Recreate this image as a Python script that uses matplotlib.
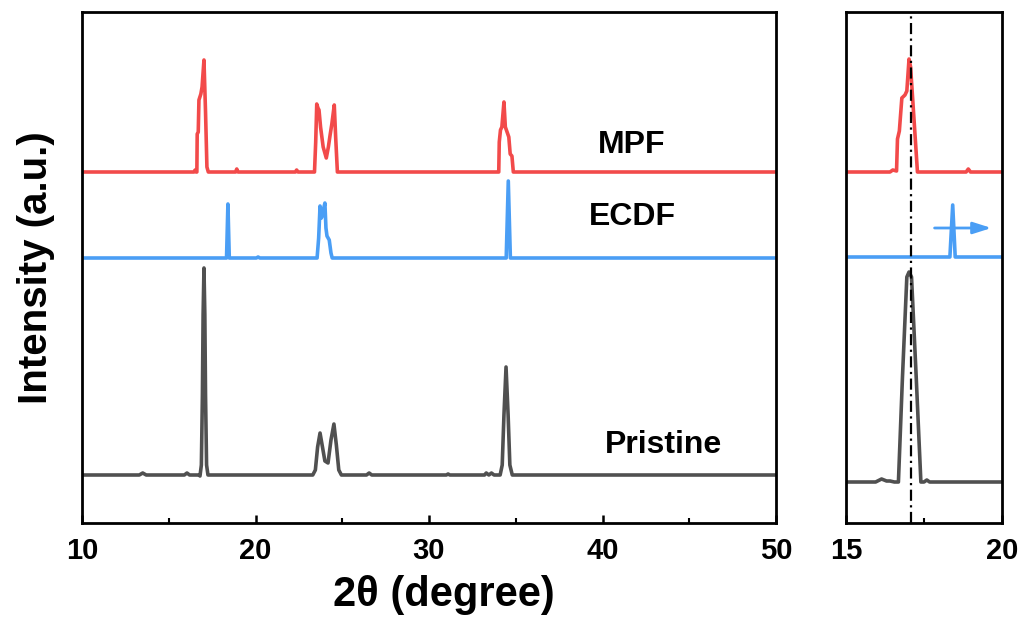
"""XRD patterns: Pristine / ECDF / MPF, full range + zoom on the 17 deg peak."""

import matplotlib
matplotlib.use("Agg")
import matplotlib.pyplot as plt
from matplotlib import font_manager

# ---- data (2theta in degree, intensity in a.u. above each baseline) ----
PRISTINE_X = [10, 13.3, 13.5, 13.7, 15.9, 16.05, 16.2, 16.75, 16.8, 16.88, 16.94, 16.98, 17.03,
              17.08, 17.12, 17.18, 17.26, 23.3, 23.45, 23.58, 23.72, 23.86, 24.0, 24.18, 24.35,
              24.52, 24.66, 24.8, 24.95, 26.4, 26.55, 26.7, 31.0, 31.1, 31.2, 33.2, 33.3, 33.45,
              33.6, 33.75, 34.1, 34.22, 34.32, 34.44, 34.56, 34.66, 34.8, 50]
PRISTINE_Y = [0, 0, 2, 0, 0, 2, 0, 0, -1, 10, 80, 160, 207,
              160, 80, 10, 0, 0, 5, 28, 42, 28, 14, 12, 35,
              51, 30, 5, 0, 0, 2, 0, 0, 1, 0, 0, 2, 0,
              2, 0, 0, 10, 60, 108, 60, 10, 0, 0]

ECDF_X = [10, 18.33, 18.41, 18.49, 20.05, 20.15, 20.25, 23.55, 23.64, 23.72, 23.8, 23.87, 24.0,
          24.06, 24.12, 24.25, 24.35, 24.42, 34.45, 34.57, 34.69, 50]
ECDF_Y = [0, 0, 54, 0, 0, 1, 0, 0, 20, 52, 40, 45, 55,
          30, 22, 18, 5, 0, 0, 77, 0, 0]

MPF_X = [10, 16.45, 16.52, 16.58, 16.62, 16.64, 16.7, 16.74, 16.85, 16.92, 17.03, 17.12, 17.2,
         17.28, 18.85, 18.92, 18.99, 22.3, 22.37, 22.45, 23.4, 23.47, 23.53, 23.6, 23.66, 23.75,
         23.9, 24.08, 24.2, 24.3, 24.4, 24.54, 24.62, 24.72, 33.95, 34.02, 34.05, 34.12, 34.2,
         34.32, 34.4, 34.5, 34.6, 34.68, 34.78, 34.86, 50]
MPF_Y = [0, 0, 2, 0, 0, 38, 40, 72, 78, 85, 112, 60, 5,
         0, 0, 3, 0, 0, 2, 0, 0, 30, 68, 64, 62, 45,
         25, 14, 25, 37, 48, 67, 35, 0, 0, 0, 30, 42, 45,
         70, 45, 40, 35, 18, 16, 0, 0]

# zoomed scan, 15-20 deg
Z_PRISTINE_X = [15, 15.95, 16.14, 16.3, 16.41, 16.55, 16.68, 16.81, 16.95, 17.02, 17.1, 17.25,
                17.4, 17.5, 17.59, 17.68, 20]
Z_PRISTINE_Y = [0, 0, 3, 1, 1, 0, 0, 105, 205, 210, 205, 105,
                0, 0, 2, 0, 0]
Z_ECDF_X = [15, 18.33, 18.42, 18.5, 20]
Z_ECDF_Y = [0, 0, 52, 0, 0]
Z_MPF_X = [15, 16.41, 16.5, 16.62, 16.65, 16.71, 16.79, 16.89, 16.95, 17.02, 17.07, 17.29,
           18.85, 18.92, 18.99, 20]
Z_MPF_Y = [0, 0, 2, 1, 33, 41, 74, 77, 81, 113, 105, 0,
           0, 3, 0, 0]

LABELS = ["Pristine", "ECDF", "MPF"]
OFFSETS = [48, 265, 351]
Z_OFFSETS = [41, 266, 351]
COLORS = ["#505050", "#4A9EF5", "#F24A4A"]
PEAK_LINE = 17.08

installed = {f.name for f in font_manager.fontManager.ttflist}
NARROW = ["Liberation Sans Narrow", "Liberation Sans"] if "Liberation Sans Narrow" in installed \
    else ["Liberation Sans"]
plt.rcParams["font.family"] = ["Liberation Sans", "DejaVu Sans"]
plt.rcParams["font.weight"] = "bold"


def style(ax, xmin, xmax, major, minor):
    ax.set_xlim(xmin, xmax)
    ax.set_ylim(0, 511)
    ax.set_xticks(major)
    ax.set_xticks(minor, minor=True)
    ax.set_yticks([])
    ax.tick_params(axis="x", which="major", direction="in", length=6, width=1.8, pad=10,
                   labelsize=21)
    ax.tick_params(axis="x", which="minor", direction="in", length=3.5, width=1.5)
    for lab in ax.get_xticklabels():
        lab.set_family(NARROW)
        lab.set_fontweight("bold")
    for s in ax.spines.values():
        s.set_linewidth(2.0)


fig = plt.figure(figsize=(10.24, 6.21), dpi=100)
ax1 = fig.add_axes([82 / 1024, 98 / 621, 694 / 1024, 511 / 621])
ax2 = fig.add_axes([846 / 1024, 98 / 621, 156 / 1024, 511 / 621])

full = [(PRISTINE_X, PRISTINE_Y), (ECDF_X, ECDF_Y), (MPF_X, MPF_Y)]
zoom = [(Z_PRISTINE_X, Z_PRISTINE_Y), (Z_ECDF_X, Z_ECDF_Y), (Z_MPF_X, Z_MPF_Y)]

for (x, y), off, c in zip(full, OFFSETS, COLORS):
    ax1.plot(x, [v + off for v in y], color=c, lw=2.6, solid_joinstyle="round")
for (x, y), off, c in zip(zoom, Z_OFFSETS, COLORS):
    ax2.plot(x, [v + off for v in y], color=c, lw=2.6, solid_joinstyle="round")

ax1.text(41.7, 378, "MPF", ha="center", va="center", fontsize=23, fontweight="bold")
ax1.text(41.7, 306, "ECDF", ha="center", va="center", fontsize=23, fontweight="bold")
ax1.text(43.5, 78, "Pristine", ha="center", va="center", fontsize=23, fontweight="bold")

ax2.axvline(PEAK_LINE, color="black", lw=1.6, ls=(0, (5, 2, 1, 2)))
ax2.annotate("", xy=(19.75, Z_OFFSETS[1] + 29), xytext=(17.75, Z_OFFSETS[1] + 29),
             arrowprops=dict(arrowstyle="-|>,head_length=1.1,head_width=0.35",
                             color=COLORS[1], lw=2.0))

style(ax1, 10, 50, [10, 20, 30, 40, 50], [15, 25, 35, 45])
style(ax2, 15, 20, [15, 20], [17.5])

fig.text(444 / 1024, 1 - 595 / 621, "2\u03b8 (degree)", ha="center", va="center",
         fontsize=30, fontweight="bold", family=NARROW)
fig.text(36 / 1024, 1 - 268 / 621, "Intensity (a.u.)", ha="center", va="center",
         rotation=90, fontsize=29, fontweight="bold")

fig.savefig("out.png", dpi=100)
